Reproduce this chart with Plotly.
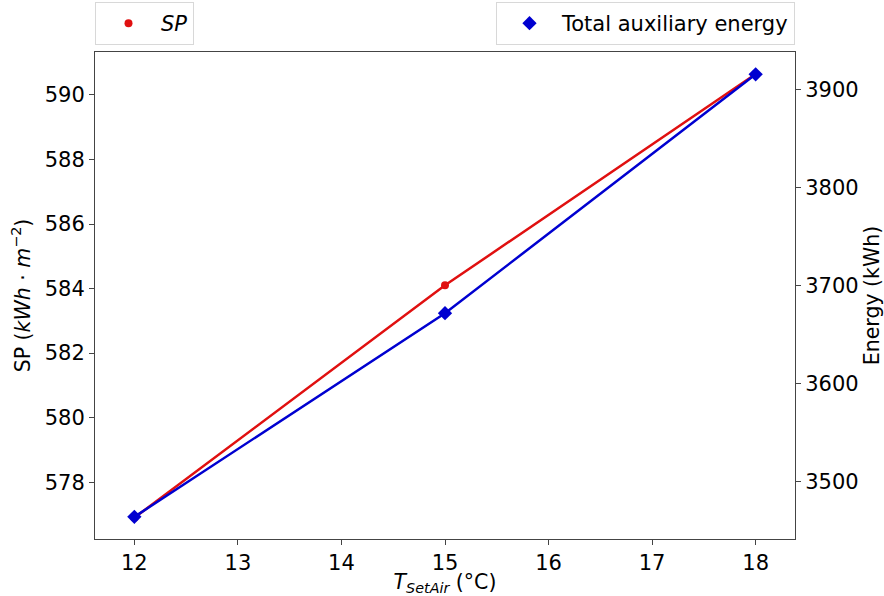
import plotly.graph_objects as go

t_set_air = [12, 15, 18]
sp_values = [576.9, 584.1, 590.65]
aux_energy = [3464, 3672, 3916]

x_ticks = [12, 13, 14, 15, 16, 17, 18]
sp_ticks = [578, 580, 582, 584, 586, 588, 590]
energy_ticks = [3500, 3600, 3700, 3800, 3900]

RED = "#e01010"
BLUE = "#0000d0"
FONT = "DejaVu Sans"
TICK_SIZE = 21
TITLE_SIZE = 20.5
LEG_SIZE = 21

fig = go.Figure()

fig.add_trace(go.Scatter(x=t_set_air, y=sp_values, mode="lines",
                         line=dict(color=RED, width=2.5), showlegend=False,
                         yaxis="y"))
fig.add_trace(go.Scatter(x=t_set_air, y=sp_values, mode="markers",
                         marker=dict(color=RED, size=8, symbol="circle"),
                         name="<i>SP</i>", legend="legend", yaxis="y"))
fig.add_trace(go.Scatter(x=t_set_air, y=aux_energy, mode="lines",
                         line=dict(color=BLUE, width=2.5), showlegend=False,
                         yaxis="y2"))
fig.add_trace(go.Scatter(x=t_set_air, y=aux_energy, mode="markers",
                         marker=dict(color=BLUE, size=11, symbol="diamond"),
                         name="Total auxiliary energy", legend="legend2",
                         yaxis="y2"))

axis_common = dict(showline=True, linecolor="#444", linewidth=1,
                   ticks="outside", ticklen=5, tickcolor="#444",
                   showgrid=False, zeroline=False,
                   tickfont=dict(family=FONT, size=TICK_SIZE, color="black"))

fig.update_layout(
    width=884, height=596,
    margin=dict(l=95, r=89, t=52, b=57, autoexpand=False),
    plot_bgcolor="white", paper_bgcolor="white",
    font=dict(family=FONT, size=TICK_SIZE, color="black"),
    xaxis=dict(range=[11.62, 18.38], tickvals=x_ticks, mirror=True,
               title=dict(text="<i>T</i><sub><i>SetAir</i></sub> (°C)",
                          font=dict(family=FONT, size=TITLE_SIZE), standoff=2),
               **axis_common),
    yaxis=dict(range=[576.24, 591.33], tickvals=sp_ticks, mirror=False,
               title=dict(text="SP (<i>kWh</i> · <i>m</i><sup>−2</sup>)",
                          font=dict(family=FONT, size=TITLE_SIZE), standoff=8),
               **axis_common),
    yaxis2=dict(range=[3441.4, 3938.8], tickvals=energy_ticks,
                overlaying="y", side="right",
                title=dict(text="Energy (kWh)",
                           font=dict(family=FONT, size=TITLE_SIZE), standoff=6),
                **axis_common),
    legend=dict(x=0, y=1.0144, xanchor="left", yanchor="bottom",
                bordercolor="#d8d8d8", borderwidth=1, bgcolor="white",
                font=dict(family=FONT, size=LEG_SIZE), itemwidth=55),
    legend2=dict(x=1, y=1.0144, xanchor="right", yanchor="bottom",
                 bordercolor="#d8d8d8", borderwidth=1, bgcolor="white",
                 font=dict(family=FONT, size=LEG_SIZE), itemwidth=55),
)

fig.write_html("out.html")
